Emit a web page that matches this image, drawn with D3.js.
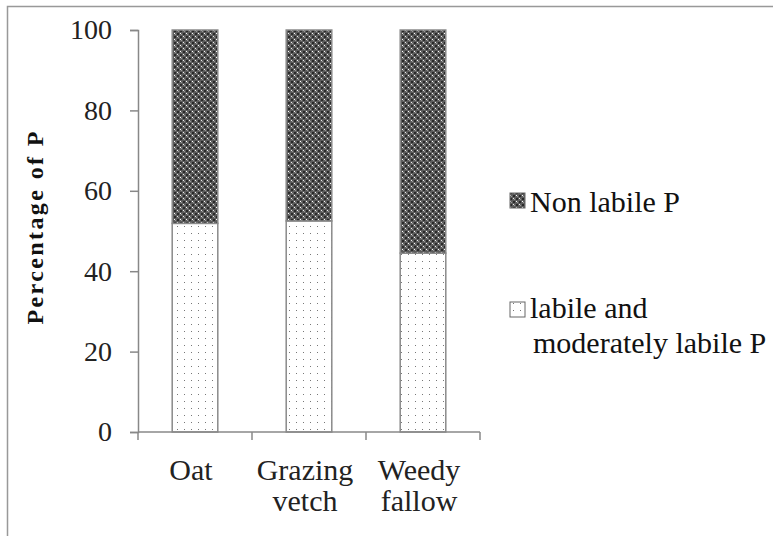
<!DOCTYPE html>
<html>
<head>
<meta charset="utf-8">
<script src="https://cdn.jsdelivr.net/npm/d3@7"></script>
</head>
<body style="margin:0">
<svg id="chart" width="773" height="536"></svg>
<script>
// ---- data ----
const categories = [["Oat"], ["Grazing", "vetch"], ["Weedy", "fallow"]];
const labileP = [51.9, 52.5, 44.5];
const nonLabileP = [48.1, 47.5, 55.5];
const yTicks = [0, 20, 40, 60, 80, 100];
const seriesNames = ["Non labile P", ["labile and", "moderately labile P"]];
const yTitle = "Percentage of P";

const FONT = "Liberation Serif";
const svg = d3.select("#chart");
const defs = svg.append("defs");

// dark pattern
const pd = defs.append("pattern").attr("id", "pDark").attr("patternUnits", "userSpaceOnUse")
  .attr("width", 6).attr("height", 6);
pd.append("rect").attr("width", 6).attr("height", 6).attr("fill", "#5c5c5c");
pd.append("rect").attr("x", 0).attr("y", 0).attr("width", 2).attr("height", 2).attr("fill", "#2a2a2a");
pd.append("rect").attr("x", 3).attr("y", 3).attr("width", 2).attr("height", 2).attr("fill", "#2a2a2a");
pd.append("rect").attr("x", 3).attr("y", 0).attr("width", 1).attr("height", 1).attr("fill", "#eee");
pd.append("rect").attr("x", 0).attr("y", 3).attr("width", 1).attr("height", 1).attr("fill", "#fff");
pd.append("rect").attr("x", 1).attr("y", 4).attr("width", 1).attr("height", 1).attr("fill", "#999");
pd.append("rect").attr("x", 4).attr("y", 1).attr("width", 1).attr("height", 1).attr("fill", "#999");

// light dotted pattern
const pl = defs.append("pattern").attr("id", "pLight").attr("patternUnits", "userSpaceOnUse")
  .attr("width", 7).attr("height", 7);
pl.append("rect").attr("width", 7).attr("height", 7).attr("fill", "#fff");
pl.append("rect").attr("x", 2).attr("y", 2).attr("width", 1).attr("height", 1).attr("fill", "#777");

// outer border
svg.append("rect").attr("x", 7.5).attr("y", 6.5).attr("width", 820).attr("height", 600)
  .attr("fill", "none").attr("stroke", "#999").attr("stroke-width", 1.5);

const x0 = 138, x1 = 480, yTop = 30, yBot = 432;
const x = d3.scaleBand().domain(d3.range(categories.length)).range([x0, x1])
  .paddingInner(0.6).paddingOuter(0.3);
const y = d3.scaleLinear().domain([0, 100]).range([yBot, yTop]);

// bars
categories.forEach((c, i) => {
  svg.append("rect").attr("x", x(i)).attr("y", y(labileP[i]))
    .attr("width", x.bandwidth()).attr("height", y(0) - y(labileP[i]))
    .attr("fill", "url(#pLight)").attr("stroke", "#8a8a8a").attr("stroke-width", 1.5);
  svg.append("rect").attr("x", x(i)).attr("y", y(labileP[i] + nonLabileP[i]))
    .attr("width", x.bandwidth()).attr("height", y(labileP[i]) - y(labileP[i] + nonLabileP[i]))
    .attr("fill", "url(#pDark)").attr("stroke", "#8a8a8a").attr("stroke-width", 1.5);
});

// y axis
const yAxis = d3.axisLeft(y).tickValues(yTicks).tickSize(8).tickPadding(18);
const ya = svg.append("g").attr("transform", `translate(${x0},0)`).call(yAxis)
  .attr("font-family", FONT).attr("font-size", 28);
ya.select(".domain").attr("stroke", "#888").attr("stroke-width", 1.5);
ya.selectAll(".tick line").attr("stroke", "#888").attr("stroke-width", 1.5);
ya.selectAll(".tick text").attr("fill", "#222");

// x axis
svg.append("line").attr("x1", x0).attr("x2", x1).attr("y1", yBot).attr("y2", yBot)
  .attr("stroke", "#888").attr("stroke-width", 1.5);
const step = x.step();
const tickXs = d3.range(categories.length + 1).map(k => x(0) - x.paddingOuter() * step + k * step);
tickXs.forEach(d => {
  svg.append("line").attr("x1", d).attr("x2", d).attr("y1", yBot).attr("y2", yBot + 8)
    .attr("stroke", "#888").attr("stroke-width", 1.5);
});
categories.forEach((c, i) => {
  c.forEach((line, j) => {
    svg.append("text").attr("text-anchor", "middle")
      .attr("font-family", FONT).attr("font-size", 30).attr("fill", "#222")
      .attr("x", x(i) + x.bandwidth() / 2 - 4).attr("y", 480 + j * 31).text(line);
  });
});

// y title
svg.append("text").attr("transform", `translate(43,${(yTop + yBot) / 2 - 3}) rotate(-90)`)
  .attr("text-anchor", "middle").attr("font-family", FONT).attr("font-weight", "bold")
  .attr("font-size", 24).attr("fill", "#111")
  .attr("textLength", 193).attr("lengthAdjust", "spacing").text(yTitle);

// legend
svg.append("rect").attr("x", 510).attr("y", 193).attr("width", 15).attr("height", 15)
  .attr("fill", "url(#pDark)").attr("stroke", "#666").attr("stroke-width", 1);
svg.append("text").attr("x", 530).attr("y", 212).attr("font-family", FONT).attr("font-size", 30)
  .attr("fill", "#111").text(seriesNames[0]);
svg.append("rect").attr("x", 510).attr("y", 302).attr("width", 15).attr("height", 15)
  .attr("fill", "url(#pLight)").attr("stroke", "#666").attr("stroke-width", 1);
svg.append("text").attr("x", 530).attr("y", 318).attr("font-family", FONT).attr("font-size", 30)
  .attr("fill", "#111").text(seriesNames[1][0]);
svg.append("text").attr("x", 533).attr("y", 353).attr("font-family", FONT).attr("font-size", 30)
  .attr("fill", "#111").text(seriesNames[1][1]);
</script>
</body>
</html>
